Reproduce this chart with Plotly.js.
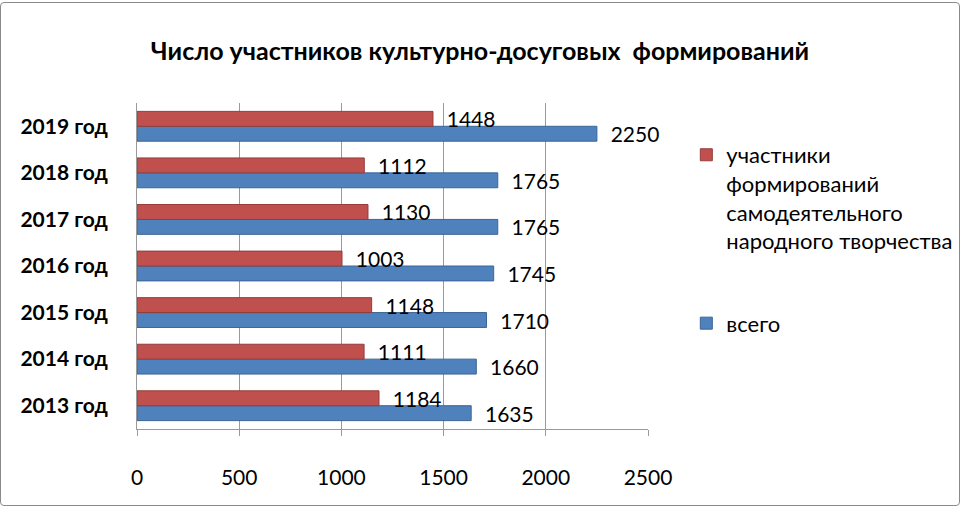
<!DOCTYPE html>
<html>
<head>
<meta charset="utf-8">
<script src="https://cdn.plot.ly/plotly-3.0.1.min.js"></script>
<style>
  body { margin: 0; background: #fff; }
  #plot-container { width: 960px; height: 510px; }
  #frame { position: absolute; left: 0; top: 2px; width: 958px; height: 502px;
           border: 1px solid #8a8a8a; border-radius: 4px; pointer-events: none; }
</style>
</head>
<body>
<div id="plot-container"></div>
<div id="frame"></div>
<script>
// годы (снизу вверх, как на оси)
var years = ['2013 год', '2014 год', '2015 год', '2016 год', '2017 год', '2018 год', '2019 год'];

// всего участников
var totalValues = [1635, 1660, 1710, 1745, 1765, 1765, 2250];

// участники формирований самодеятельного народного творчества
var amateurValues = [1184, 1111, 1148, 1003, 1130, 1112, 1448];

var xTicks = [0, 500, 1000, 1500, 2000, 2500];

var fontName = 'Lato, "DejaVu Sans", sans-serif';

// подписи чуть отодвинуты от конца столбика
function labels(values) {
    return values.map(function (v) { return '\u00a0\u00a0' + v; });
}

// синие идут первыми, чтобы в группе оказаться снизу
var dataTotal = {
    y: years, x: totalValues, type: 'bar', orientation: 'h',
    name: 'всего', legendgroup: 'b', legendrank: 2,
    marker: {color: '#4f81bd', line: {color: '#3a6596', width: 1}},
    text: labels(totalValues), textposition: 'outside', constraintext: 'none',
    textfont: {family: fontName, size: 21, color: '#000'},
    cliponaxis: false, hoverinfo: 'x'
};

var dataAmateur = {
    y: years, x: amateurValues, type: 'bar', orientation: 'h',
    name: 'участники<br>формирований<br>самодеятельного<br>народного творчества',
    legendgroup: 'a', legendrank: 1,
    marker: {color: '#c0504d', line: {color: '#943c3a', width: 1}},
    text: labels(amateurValues), textposition: 'outside', constraintext: 'none',
    textfont: {family: fontName, size: 21, color: '#000'},
    cliponaxis: false, hoverinfo: 'x'
};

var layout = {
    width: 960, height: 510,
    margin: {l: 137, r: 312, t: 103, b: 81, autoexpand: false},
    paper_bgcolor: '#fff', plot_bgcolor: '#fff',
    font: {family: fontName, color: '#000'},
    title: {
        text: '<b>Число участников культурно-досуговых  формирований</b>',
        font: {family: fontName, size: 25, color: '#000'},
        x: 0.5, xanchor: 'center', y: 0.9, yanchor: 'middle'
    },
    barmode: 'group', bargap: 0.36, bargroupgap: 0,
    xaxis: {
        range: [0, 2500], tickvals: xTicks, ticktext: xTicks.map(String),
        showgrid: true, gridcolor: '#9a9a9a', gridwidth: 1,
        zeroline: false, showline: true, linecolor: '#9a9a9a',
        ticks: 'outside', ticklen: 6, tickcolor: '#9a9a9a',
        ticklabelstandoff: 24,
        tickfont: {family: fontName, size: 21, color: '#000'}
    },
    yaxis: {
        range: [-0.5, 6.5], showgrid: false, zeroline: false,
        showline: true, linecolor: '#9a9a9a',
        ticks: '', ticklabelstandoff: 24,
        tickprefix: '<b>', ticksuffix: '</b>',
        tickfont: {family: fontName, size: 21, color: '#000'}
    },
    legend: {
        x: 1.075, xanchor: 'left', y: 0.905, yanchor: 'top',
        traceorder: 'grouped', tracegroupgap: 51, valign: 'top',
        font: {family: fontName, size: 22, color: '#000'},
        itemwidth: 30
    },
    showlegend: true
};

Plotly.newPlot('plot-container', [dataTotal, dataAmateur], layout, {displayModeBar: false});
</script>
</body>
</html>
